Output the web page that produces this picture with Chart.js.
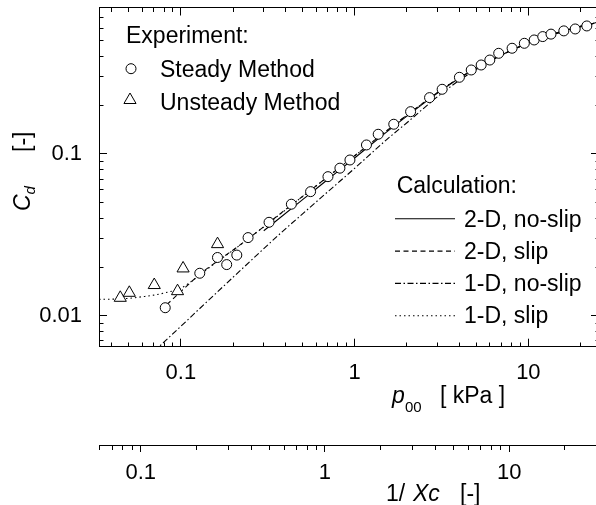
<!DOCTYPE html>
<html>
<head>
<meta charset="utf-8">
<script src="https://cdn.jsdelivr.net/npm/chart.js@4/dist/chart.umd.min.js"></script>
<style>
html,body{margin:0;padding:0;overflow:hidden;background:#fff;width:596px;height:505px}
#wrap{position:relative;width:600px;height:505px}
canvas{display:block}
</style>
</head>
<body>
<div id="wrap"><canvas id="c" width="600" height="505"></canvas></div>
<script>
// ---------------- data ----------------
const steadyP  = [0.0813,0.1285,0.1625,0.1836,0.2099,0.2437,0.3218,0.4325,0.558,0.7025,0.823,0.94,1.17,1.367,1.68,2.10,2.70,3.19,4.01,4.69,5.35,6.0,6.75,8.06,9.48,10.8,12.1,13.5,16.0,18.6,21.7];
const steadyCd = [0.0112,0.0183,0.0229,0.0207,0.0237,0.0304,0.0378,0.0489,0.0585,0.0724,0.0817,0.0918,0.1137,0.1324,0.1527,0.1827,0.2231,0.2512,0.298,0.3307,0.355,0.381,0.4193,0.4506,0.4835,0.507,0.532,0.551,0.577,0.593,0.619];

const unsteadyP  = [0.0448,0.0505,0.0703,0.0957,0.103,0.1626];
const unsteadyCd = [0.0129,0.01385,0.01547,0.01418,0.0196,0.0277];

const p2DNoSlip  = [0.3,0.5,0.7,1,1.5,2,3,4,5,7,10,15,20,25.5];
const cd2DNoSlip = [0.0335,0.052,0.0695,0.0945,0.1345,0.1715,0.238,0.294,0.338,0.41,0.485,0.565,0.615,0.655];

const p2DSlip  = [0.083,0.1,0.13,0.16,0.2,0.25,0.3,0.4,0.5,0.7,1,1.5,2,3,4,5,7,10,15,20,25.5];
const cd2DSlip = [0.0117,0.0141,0.0182,0.0215,0.0255,0.0305,0.0355,0.0453,0.0545,0.0722,0.0975,0.137,0.174,0.24,0.295,0.338,0.41,0.485,0.565,0.615,0.655];

const p1DNoSlip  = [0.07,0.1,0.2,0.384,0.5,0.75,1,1.5,2,3,4,5,7,10,15,20,25.5];
const cd1DNoSlip = [0.0060,0.0086,0.0173,0.0331,0.0425,0.0622,0.0815,0.1205,0.156,0.226,0.285,0.333,0.409,0.485,0.565,0.615,0.655];

const p1DSlip  = [0.0338,0.04,0.05,0.06,0.07,0.08,0.1,0.115,0.13,0.16,0.2,0.3,0.5,1,2,4,10,25.5];
const cd1DSlip = [0.01262,0.01265,0.0128,0.0131,0.0134,0.0138,0.0148,0.0163,0.018,0.0214,0.0254,0.0354,0.0544,0.0973,0.1735,0.2945,0.485,0.655];

// axis ticks and labels
const xTicks   = [0.04,0.05,0.06,0.07,0.08,0.09,0.1,0.2,0.3,0.4,0.5,0.6,0.7,0.8,0.9,1,2,3,4,5,6,7,8,9,10,20];
const xLabels  = [0.1,1,10];
const yTicks   = [0.007,0.008,0.009,0.01,0.02,0.03,0.04,0.05,0.06,0.07,0.08,0.09,0.1,0.2,0.3,0.4,0.5,0.6,0.7];
const yLabels  = [0.01,0.1];
const x2Ticks  = [0.06,0.07,0.08,0.09,0.1,0.2,0.3,0.4,0.5,0.6,0.7,0.8,0.9,1,2,3,4,5,6,7,8,9,10,20,30];
const x2Labels = [0.1,1,10];
const majors   = [0.01,0.1,1,10];

// ranges
const X_MIN = 0.0338, X_MAX = 25.5;
const Y_MIN = 0.00643, Y_MAX = 0.805;
const X2_MIN = 0.0594, X2_MAX = 30.7;

const FONT = "'Liberation Sans', Arial, Helvetica, sans-serif";
const pts = (xs, ys) => xs.map((v, i) => ({x: v, y: ys[i]}));
const isMajor = v => majors.some(m => Math.abs(v - m) < m * 1e-6);
const setTicks = arr => s => { s.ticks = arr.map(v => ({value: v})); };
const labelCb = labs => v => labs.includes(v) ? String(v) : [];
const fitTo = (w, h) => s => {
  if (w !== null) s.width = w;
  if (h !== null) s.height = h;
  s.paddingTop = 0; s.paddingBottom = 0; s.paddingLeft = 0; s.paddingRight = 0;
};

function inwardAxis(pos, ticksArr, min, max, extra) {
  // ticks pointing into the plot; major 8px, minor 4.5px
  const startsAtAxis = (pos === 'bottom' || pos === 'right');
  return Object.assign({
    type: 'logarithmic', position: pos, min: min, max: max,
    afterBuildTicks: setTicks(ticksArr),
    border: {display: true, color: '#000', width: 1},
    grid: {
      drawOnChartArea: false, drawTicks: true, tickLength: -8,
      tickColor: '#000', tickWidth: 1,
      tickBorderDash: c => isMajor(c.tick.value) ? [] : (startsAtAxis ? [4.5, 60] : [0, 3.5, 4.5, 60])
    },
    ticks: {display: false, autoSkip: false, maxRotation: 0}
  }, extra);
}

const scales = {
  x: inwardAxis('bottom', xTicks, X_MIN, X_MAX, {
    weight: 0,
    afterFit: fitTo(null, 98.3),
    ticks: {display: true, autoSkip: false, maxRotation: 0, padding: 21, color: '#000',
            font: {family: FONT, size: 22}, callback: labelCb(xLabels)}
  }),
  xTop: inwardAxis('top', xTicks, X_MIN, X_MAX, {afterFit: fitTo(null, 0)}),
  y: inwardAxis('left', yTicks, Y_MIN, Y_MAX, {
    afterFit: fitTo(99, null),
    ticks: {display: true, autoSkip: false, padding: 25, color: '#000',
            font: {family: FONT, size: 22}, callback: labelCb(yLabels)}
  }),
  yRight: inwardAxis('right', yTicks, Y_MIN, Y_MAX, {afterFit: fitTo(0, null)}),
  x2: {
    type: 'logarithmic', position: 'bottom', weight: 10, min: X2_MIN, max: X2_MAX,
    afterBuildTicks: setTicks(x2Ticks),
    afterFit: fitTo(null, 60),
    border: {display: true, color: '#000', width: 1},
    grid: {
      drawOnChartArea: false, drawTicks: true, tickLength: 7, tickColor: '#000', tickWidth: 1,
      tickBorderDash: c => isMajor(c.tick.value) ? [] : [4, 60]
    },
    ticks: {display: true, autoSkip: false, maxRotation: 0, padding: 7.8, color: '#000',
            font: {family: FONT, size: 22}, callback: labelCb(x2Labels)}
  }
};

const datasets = [
  {label: 'Steady Method', data: pts(steadyP, steadyCd), showLine: false, pointStyle: 'circle',
   pointRadius: 5, pointBorderWidth: 1, pointBorderColor: '#000', pointBackgroundColor: '#fff', borderColor: '#000', backgroundColor: '#fff'},
  {label: 'Unsteady Method', data: pts(unsteadyP, unsteadyCd), showLine: false, pointStyle: 'triangle',
   pointRadius: 7, pointBorderWidth: 1, pointBorderColor: '#000', pointBackgroundColor: '#fff', borderColor: '#000', backgroundColor: '#fff'},
  {label: '2-D, no-slip', data: pts(p2DNoSlip, cd2DNoSlip), borderColor: '#000', borderWidth: 1.1, borderDash: [], pointRadius: 0, cubicInterpolationMode: 'monotone'},
  {label: '2-D, slip', data: pts(p2DSlip, cd2DSlip), borderColor: '#000', borderWidth: 1.1, borderDash: [5, 3.5], pointRadius: 0, cubicInterpolationMode: 'monotone'},
  {label: '1-D, no-slip', data: pts(p1DNoSlip, cd1DNoSlip), borderColor: '#000', borderWidth: 1.1, borderDash: [6, 2.5, 1.5, 2.5], pointRadius: 0, cubicInterpolationMode: 'monotone'},
  {label: '1-D, slip', data: pts(p1DSlip, cd1DSlip), borderColor: '#000', borderWidth: 1.1, borderDash: [1.5, 3], pointRadius: 0, cubicInterpolationMode: 'monotone'}
];

function marker(ctx, style, r, x, y) {
  ctx.save();
  ctx.strokeStyle = '#000'; ctx.fillStyle = '#fff'; ctx.lineWidth = 1; ctx.setLineDash([]);
  if (Chart.helpers && Chart.helpers.drawPoint) {
    Chart.helpers.drawPoint(ctx, {pointStyle: style, radius: r, borderWidth: 1, rotation: 0}, x, y);
  } else {
    ctx.beginPath();
    if (style === 'circle') ctx.arc(x, y, r, 0, Math.PI * 2);
    else { ctx.moveTo(x, y - r); ctx.lineTo(x + r * 0.866, y + r / 2); ctx.lineTo(x - r * 0.866, y + r / 2); ctx.closePath(); }
    ctx.fill(); ctx.stroke();
  }
  ctx.restore();
}

const overlay = {
  id: 'overlay',
  afterDraw(chart) {
    const ctx = chart.ctx;
    const ds = chart.data.datasets;
    const f = (sz, it) => (it ? 'italic ' : '') + sz + 'px ' + FONT;
    ctx.save();
    ctx.fillStyle = '#000';
    ctx.textAlign = 'left';
    ctx.textBaseline = 'alphabetic';

    // Experiment legend
    ctx.font = f(23);
    ctx.fillText('Experiment:', 126, 43);
    marker(ctx, ds[0].pointStyle, 5, 131, 68.7);
    ctx.fillText(ds[0].label, 160, 76.5);
    marker(ctx, ds[1].pointStyle, 7, 130, 100);
    ctx.fillText(ds[1].label, 160, 110);

    // Calculation legend
    ctx.fillText('Calculation:', 396.7, 193.3);
    const rowY = [218.3, 250.6, 282.9, 315.2];
    for (let i = 0; i < 4; i++) {
      const d = ds[2 + i];
      ctx.save();
      ctx.strokeStyle = '#000'; ctx.lineWidth = 1.1; ctx.setLineDash(d.borderDash || []);
      ctx.beginPath(); ctx.moveTo(395, rowY[i] + 0.5); ctx.lineTo(455, rowY[i] + 0.5); ctx.stroke();
      ctx.restore();
      ctx.fillText(d.label, 464, rowY[i] + 8.2);
    }

    // x axis title: p00 [ kPa ]
    ctx.font = f(23, true); ctx.fillText('p', 392, 403);
    ctx.font = f(15); ctx.fillText('00', 405, 412);
    ctx.font = f(23); ctx.fillText('[ kPa ]', 440, 403);

    // secondary x axis title: 1/ Xc [-]
    ctx.font = f(23); ctx.fillText('1/', 386, 500.5);
    ctx.font = f(23, true); ctx.fillText('Xc', 413, 500.5);
    ctx.font = f(23); ctx.fillText('[-]', 460, 500.5);

    // y axis title: Cd [-]
    ctx.save();
    ctx.translate(30, 211);
    ctx.rotate(-Math.PI / 2);
    ctx.font = f(23, true); ctx.fillText('C', 0, 0);
    ctx.font = f(15, true); ctx.fillText('d', 16.5, 5);
    ctx.font = f(23); ctx.fillText('[-]', 59, 0);
    ctx.restore();

    ctx.restore();
  }
};

new Chart(document.getElementById('c'), {
  type: 'line',
  data: {datasets: datasets},
  options: {
    responsive: false, animation: false, devicePixelRatio: 1, events: [],
    layout: {autoPadding: false, padding: {top: 7.5, left: 0, right: 1, bottom: 0}},
    plugins: {legend: {display: false}, tooltip: {enabled: false}, title: {display: false}},
    scales: scales
  },
  plugins: [overlay]
});
</script>
</body>
</html>
